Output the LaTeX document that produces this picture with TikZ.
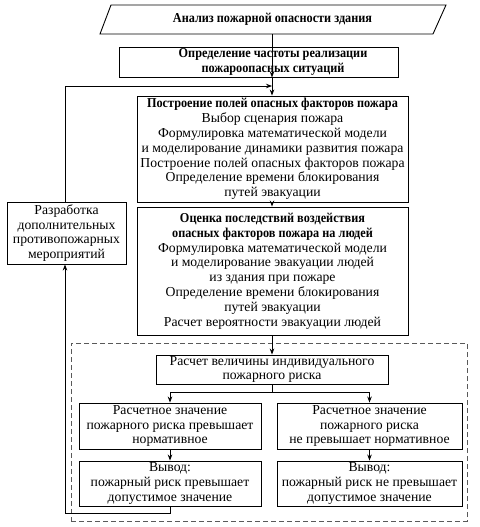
\documentclass[tikz,border=0pt]{standalone}
\usepackage{fontspec}
\setmainfont{Liberation Serif}
\newfontfamily\bcond{Liberation Serif}[FakeStretch=0.9]
\usetikzlibrary{arrows.meta,calc}
\newcommand\dfont{\fontsize{13.7}{14.8}\selectfont}
\newcommand\hb[1]{{\bcond\bfseries\fontsize{13.6}{14.8}\selectfont #1}}
\begin{document}
\begin{tikzpicture}[x=1pt,y=-1pt,
  box/.style={draw,line width=0.9pt,inner sep=0pt,align=center,font=\dfont},
  txt/.style={inner sep=0pt,align=center,font=\dfont},
  conn/.style={line width=0.8pt},
  arr/.style={conn,-{Stealth[length=6pt,width=4.5pt]}},
  dashbox/.style={draw,line width=0.6pt,dash pattern=on 5pt off 3pt,gray!70!black}]
\useasboundingbox (0,0) rectangle (479,527);
% top parallelogram
\node[txt,minimum width=346,minimum height=29] (para) at (272.5,19.5) {\hb{Анализ пожарной опасности здания}};
\draw[line width=0.9pt] (111,5) -- (446,5) -- (433,34) -- (100,34) -- cycle;
% box2
\node[box,minimum width=279,minimum height=30] (box2) at (258.5,62) {};
\node[txt] (t2) at (273,62) {\hb{Определение частоты реализации}\\\hb{пожароопасных ситуаций}};
% box3
\node[box,minimum width=271,minimum height=106] (box3) at (272.5,149) {\hb{Построение полей опасных факторов пожара}\\Выбор сценария пожара\\Формулировка математической модели\\и моделирование динамики развития пожара\\Построение полей опасных факторов пожара\\Определение времени блокирования\\путей эвакуации};
% box4
\node[box,minimum width=271,minimum height=128] (box4) at (272.5,271) {\hb{Оценка последствий воздействия}\\\hb{опасных факторов пожара на людей}\\Формулировка математической модели\\и моделирование эвакуации людей\\из здания при пожаре\\Определение времени блокирования\\путей эвакуации\\Расчет вероятности эвакуации людей};
% left box
\node[box,minimum width=119,minimum height=62] (left) at (66.5,233) {Разработка\\дополнительных\\противопожарных\\мероприятий};
% dashed region
\node[dashbox,minimum width=396,minimum height=178,inner sep=0pt] (region) at (269,432) {};
% box5
\node[box,minimum width=232,minimum height=29] (box5) at (272,369.5) {Расчет величины индивидуального\\пожарного риска};
% box6
\node[box,minimum width=182,minimum height=46] (b6l) at (170,426) {Расчетное значение\\пожарного риска превышает\\нормативное};
\node[box,minimum width=185,minimum height=46] (b6r) at (369.5,426) {Расчетное значение\\пожарного риска\\не превышает нормативное};
% box7
\node[box,minimum width=182,minimum height=45] (b7l) at (170,483.5) {Вывод:\\пожарный риск превышает\\допустимое значение};
\node[box,minimum width=185,minimum height=45] (b7r) at (369.5,483.5) {Вывод:\\пожарный риск не превышает\\допустимое значение};
% connectors
\coordinate (fb) at (272,86);
\coordinate (split) at (272,392);
\coordinate (loop) at (65,513);
\draw[arr] (para.south -| fb) -- (box2.south -| fb);
\draw[arr] (box2.south -| fb) -- (box3.north -| fb);
\draw[arr] (left.north -| loop) -- (loop |- fb) -- (fb);
\draw[arr] (box3.south -| fb) -- (box4.north -| fb);
\draw[arr] (box4.south -| fb) -- (box5.north -| fb);
\draw[conn] (box5.south -| split) -- (split);
\draw[arr] (split) -| (b6l.north);
\draw[arr] (split) -| (b6r.north);
\draw[arr] (b6l) -- (b7l);
\draw[arr] (b6r) -- (b7r);
\draw[arr] (b7l.south) |- (loop) -- (left.south -| loop);
\end{tikzpicture}
\end{document}
